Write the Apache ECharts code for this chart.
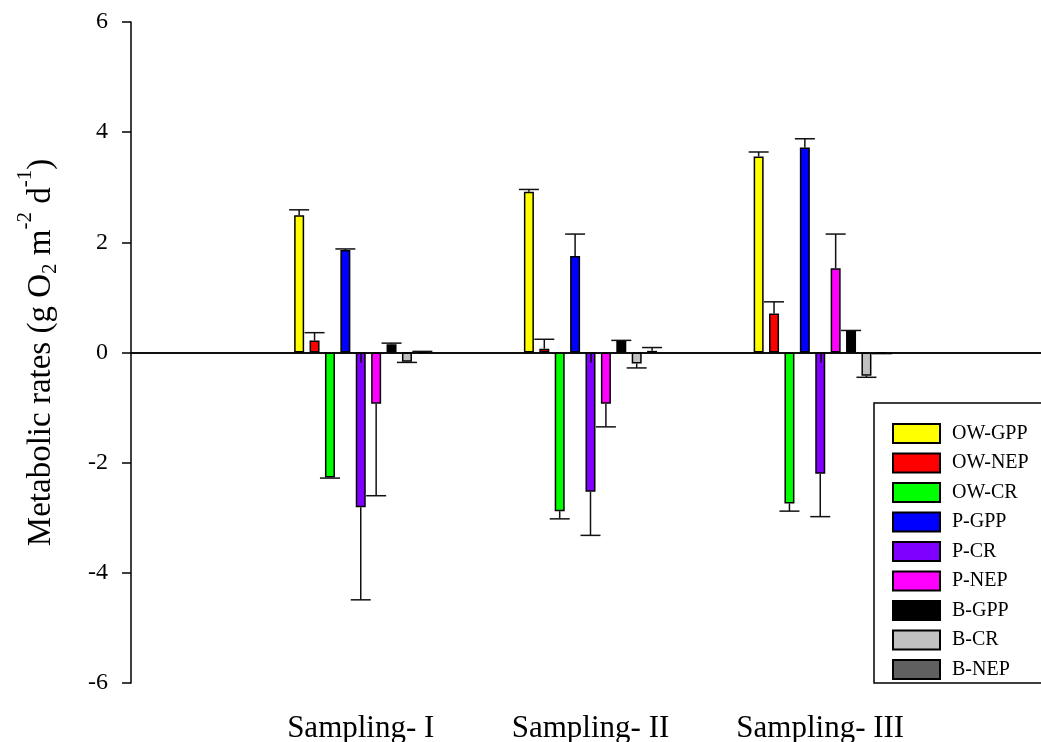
<!DOCTYPE html>
<html>
<head>
<meta charset="utf-8">
<script src="https://cdn.jsdelivr.net/npm/echarts@6/dist/echarts.min.js"></script>
<style>html,body{margin:0;padding:0;background:#fff}#c{width:1041px;height:742px}</style>
</head>
<body>
<div id="c"></div>
<script>
// ---- data ----
var categories = ['', 'Sampling- I', 'Sampling- II', 'Sampling- III', ''];
var seriesNames = ['OW-GPP', 'OW-NEP', 'OW-CR', 'P-GPP', 'P-CR', 'P-NEP', 'B-GPP', 'B-CR', 'B-NEP'];
var owGpp = [2.49, 2.92, 3.56];
var owNep = [0.22, 0.07, 0.71];
var owCr  = [-2.27, -2.88, -2.74];
var pGpp  = [1.86, 1.75, 3.72];
var pCr   = [-2.81, -2.53, -2.20];
var pNep  = [-0.93, -0.93, 1.53];
var bGpp  = [0.15, 0.21, 0.39];
var bCr   = [-0.17, -0.20, -0.42];
var bNep  = [0.01, 0.03, -0.01];
// error bar ends (one-sided, away from zero)
var owGppErr = [2.59, 2.96, 3.64];
var owNepErr = [0.36, 0.24, 0.92];
var owCrErr  = [-2.28, -3.02, -2.88];
var pGppErr  = [1.88, 2.15, 3.88];
var pCrErr   = [-4.49, -3.32, -2.98];
var pNepErr  = [-2.60, -1.35, 2.15];
var bGppErr  = [0.17, 0.22, 0.40];
var bCrErr   = [-0.18, -0.28, -0.45];
var bNepErr  = [0.02, 0.09, -0.02];
var yTicks = [-6, -4, -2, 0, 2, 4, 6];

var values = [owGpp, owNep, owCr, pGpp, pCr, pNep, bGpp, bCr, bNep];
var errs = [owGppErr, owNepErr, owCrErr, pGppErr, pCrErr, pNepErr, bGppErr, bCrErr, bNepErr];
var colors = ['#FFFF00', '#FF0000', '#00FF00', '#0000FF', '#8000FF', '#FF00FF', '#000000', '#C0C0C0', '#606060'];

var BAR_W = 10, GAP = 0.54;
var PITCH = BAR_W * (1 + GAP);
var SERIF = '"Liberation Serif", "DejaVu Serif", serif';

var series = seriesNames.map(function (n, si) {
  var s = {
    name: n, type: 'bar', barWidth: BAR_W, barGap: (GAP * 100) + '%',
    itemStyle: { color: colors[si], borderColor: '#000', borderWidth: 1.5 },
    data: values[si].map(function (v, i) { return [i + 1, v]; }),
    z: 3
  };
  if (si === 0) {
    s.markLine = {
      silent: true, symbol: 'none', label: { show: false },
      lineStyle: { color: '#000', width: 1.5, type: 'solid' },
      data: [{ yAxis: 0 }], z: 2
    };
  }
  return s;
});

var errData = [];
seriesNames.forEach(function (n, si) {
  values[si].forEach(function (v, i) { errData.push([i + 1, si, v, errs[si][i]]); });
});
series.push({
  type: 'custom', silent: true, z: 4,
  data: errData,
  renderItem: function (params, api) {
    var cat = api.value(0), si = api.value(1), v = api.value(2), e = api.value(3);
    var off = (si - (seriesNames.length - 1) / 2) * PITCH;
    var p0 = api.coord([cat, v]);
    var p1 = api.coord([cat, e]);
    var x = p0[0] + off;
    var st = { stroke: '#111', lineWidth: 1.5 };
    return {
      type: 'group',
      children: [
        { type: 'line', shape: { x1: x, y1: p0[1], x2: x, y2: p1[1] }, style: st },
        { type: 'line', shape: { x1: x - 10, y1: p1[1], x2: x + 10, y2: p1[1] }, style: st }
      ]
    };
  }
});

var chart = echarts.init(document.getElementById('c'));
chart.setOption({
  animation: false,
  backgroundColor: '#fff',
  grid: { left: 131, right: -9, top: 22, bottom: 59, containLabel: false, outerBoundsMode: 'none' },
  xAxis: {
    type: 'category', data: categories, boundaryGap: false,
    axisLine: { lineStyle: { color: '#000', width: 1.5 } },
    axisTick: { show: true, length: 10, lineStyle: { color: '#000', width: 1.5 },
      interval: function (idx) { return idx >= 1 && idx <= 3; } },
    axisLabel: { fontFamily: SERIF, fontSize: 31, color: '#000', margin: 30,
      interval: function (idx) { return idx >= 1 && idx <= 3; } },
    splitLine: { show: false },
    z: 5
  },
  yAxis: {
    type: 'value', min: yTicks[0], max: yTicks[yTicks.length - 1], interval: 2,
    axisLine: { show: true, lineStyle: { color: '#000', width: 1.5 } },
    axisTick: { show: true, length: 9, lineStyle: { color: '#000', width: 1.5 } },
    axisLabel: { fontFamily: SERIF, fontSize: 24, color: '#000', margin: 23 },
    splitLine: { show: false },
    name: '{a|Metabolic rates (g O}{sub|2}{a| m}{sup|-2}{a| d}{sup|-1}{a|)}',
    nameLocation: 'middle', nameRotate: 90, nameGap: 60,
    nameTextStyle: {
      fontFamily: SERIF, color: '#000',
      rich: {
        a: { fontFamily: SERIF, fontSize: 33, lineHeight: 60, color: '#000' },
        sub: { fontFamily: SERIF, fontSize: 21, lineHeight: 21, verticalAlign: 'bottom', padding: [0, 0, 10, 0], color: '#000' },
        sup: { fontFamily: SERIF, fontSize: 21, lineHeight: 21, verticalAlign: 'top', padding: [4, 0, 0, 0], color: '#000' }
      }
    }
  },
  legend: {
    orient: 'vertical', left: 887, top: 418,
    itemWidth: 47, itemHeight: 19, itemGap: 8.5, icon: 'rect',
    padding: 5,
    textStyle: { fontFamily: SERIF, fontSize: 20, color: '#000', padding: [0, 0, 0, 7] },
    data: seriesNames
  },
  graphic: [{
    type: 'rect', z: 0, silent: true,
    shape: { x: 874, y: 403, width: 200, height: 280 },
    style: { fill: '#fff', stroke: '#000', lineWidth: 1.5 }
  }],
  series: series
});
</script>
</body>
</html>
